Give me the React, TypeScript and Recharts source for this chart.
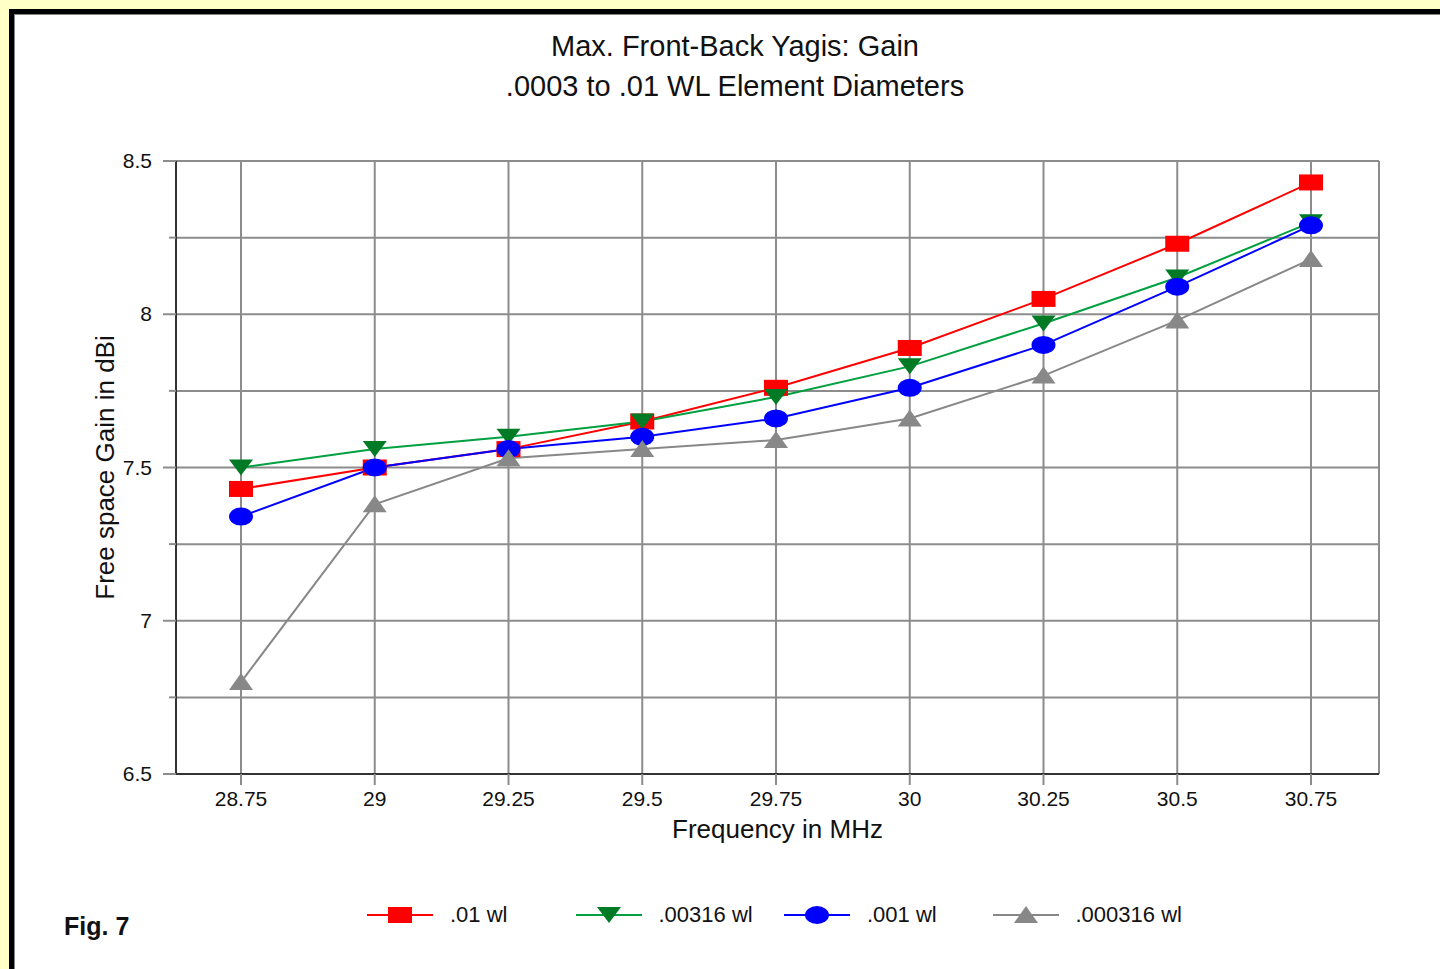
import { LineChart, Line, XAxis, YAxis, CartesianGrid, Legend, Label } from 'recharts'

const frequencies = ['28.75', '29', '29.25', '29.5', '29.75', '30', '30.25', '30.5', '30.75']
const gain01 = [7.43, 7.5, 7.56, 7.65, 7.76, 7.89, 8.05, 8.23, 8.43]
const gain00316 = [7.5, 7.56, 7.6, 7.65, 7.73, 7.83, 7.97, 8.12, 8.3]
const gain001 = [7.34, 7.5, 7.56, 7.6, 7.66, 7.76, 7.9, 8.09, 8.29]
const gain000316 = [6.8, 7.38, 7.53, 7.56, 7.59, 7.66, 7.8, 7.98, 8.18]
const yTicks = [6.5, 6.75, 7, 7.25, 7.5, 7.75, 8, 8.25, 8.5]

const FONT = '"Liberation Sans", Arial, sans-serif'
const GRID = '#8c8c8c'
const AXIS = '#333'

type Shape = 'square' | 'down' | 'circle' | 'up'

const series: { key: string; name: string; color: string; fill: string; shape: Shape }[] = [
  { key: 'w01', name: '.01 wl', color: '#ff0000', fill: '#ff0000', shape: 'square' },
  { key: 'w00316', name: '.00316 wl', color: '#00a040', fill: '#007a25', shape: 'down' },
  { key: 'w001', name: '.001 wl', color: '#0000ff', fill: '#0000ff', shape: 'circle' },
  { key: 'w000316', name: '.000316 wl', color: '#888888', fill: '#888888', shape: 'up' },
]

const data = frequencies.map((f, i) => ({
  freq: f,
  w01: gain01[i],
  w00316: gain00316[i],
  w001: gain001[i],
  w000316: gain000316[i],
}))

function marker(shape: Shape, cx: number, cy: number, fill: string, key?: number) {
  if (shape === 'square') return <rect key={key} x={cx - 12} y={cy - 8} width={24} height={16} fill={fill} />
  if (shape === 'circle') return <ellipse key={key} cx={cx} cy={cy} rx={12} ry={9} fill={fill} />
  if (shape === 'down')
    return <polygon key={key} points={`${cx - 12},${cy - 8} ${cx + 12},${cy - 8} ${cx},${cy + 8}`} fill={fill} />
  return <polygon key={key} points={`${cx - 12},${cy + 8} ${cx + 12},${cy + 8} ${cx},${cy - 9}`} fill={fill} />
}

function YTick(props: any) {
  const { x, y, payload } = props
  const major = Number.isInteger(payload.value * 2)
  return (
    <g>
      <line x1={x - (major ? 13 : 7)} x2={x} y1={y} y2={y} stroke={GRID} strokeWidth={2} />
      {major && (
        <text x={x - 24} y={y + 7} textAnchor="end" fontSize={21} fill="#111" fontFamily={FONT}>
          {payload.value}
        </text>
      )}
    </g>
  )
}

function XTick(props: any) {
  const { x, y, payload } = props
  return (
    <g>
      <line x1={x} x2={x} y1={y} y2={y + 11} stroke={GRID} strokeWidth={2} />
      <text x={x} y={y + 32} textAnchor="middle" fontSize={21} fill="#111" fontFamily={FONT}>
        {payload.value}
      </text>
    </g>
  )
}

function LegendContent() {
  return (
    <div style={{ display: 'flex', fontFamily: FONT, fontSize: 22, color: '#111' }}>
      {series.map((s) => (
        <div key={s.key} style={{ width: 208.5, display: 'flex', alignItems: 'center' }}>
          <svg width={66} height={24}>
            <line x1={0} x2={66} y1={12} y2={12} stroke={s.color} strokeWidth={2} />
            {marker(s.shape, 33, 12, s.fill)}
          </svg>
          <span style={{ marginLeft: 17 }}>{s.name}</span>
        </div>
      ))}
    </div>
  )
}

export default function App() {
  return (
    <div style={{ position: 'relative', width: 1440, height: 969, overflow: 'hidden', background: '#ffffc6' }}>
      <style>{'body{margin:0}'}</style>
      <div
        style={{
          position: 'absolute',
          left: 9,
          top: 9,
          width: 1500,
          height: 1100,
          background: '#fff',
          border: '5px solid #000',
          boxShadow: 'inset 0 0 0 1px #888',
        }}
      />
      <div
        style={{
          position: 'absolute',
          left: 0,
          width: 1470,
          top: 26,
          textAlign: 'center',
          fontFamily: FONT,
          fontSize: 29,
          lineHeight: '40px',
          color: '#111',
        }}
      >
        <div>Max. Front-Back Yagis: Gain</div>
        <div>.0003 to .01 WL Element Diameters</div>
      </div>
      <div
        style={{
          position: 'absolute',
          left: 64,
          top: 912,
          fontFamily: FONT,
          fontSize: 25,
          fontWeight: 'bold',
          color: '#111',
        }}
      >
        Fig. 7
      </div>
      <div style={{ position: 'absolute', left: 0, top: 0 }}>
        <LineChart width={1440} height={969} data={data} margin={{ top: 161, right: 61, left: 0, bottom: 125 }}>
          <CartesianGrid stroke={GRID} strokeWidth={2} />
          <XAxis
            dataKey="freq"
            height={70}
            padding={{ left: 65, right: 68 }}
            tick={<XTick />}
            tickSize={0}
            tickMargin={0}
            tickLine={false}
            axisLine={{ stroke: AXIS, strokeWidth: 2 }}
            interval={0}
          >
            <Label
              value="Frequency in MHz"
              position="insideBottom"
              offset={6}
              style={{ fontFamily: FONT, fontSize: 26, fill: '#111' }}
            />
          </XAxis>
          <XAxis xAxisId="top" dataKey="freq" orientation="top" height={0} tick={false} tickLine={false} axisLine={{ stroke: AXIS, strokeWidth: 2 }} />
          <YAxis
            type="number"
            domain={[6.5, 8.5]}
            ticks={yTicks}
            width={176}
            tick={<YTick />}
            tickSize={0}
            tickMargin={0}
            tickLine={false}
            axisLine={{ stroke: AXIS, strokeWidth: 2 }}
            interval={0}
          >
            <Label
              content={(p: any) => {
                const vb = p.viewBox
                const cx = vb.x + 114
                const cy = vb.y + vb.height / 2
                return (
                  <text
                    x={cx}
                    y={cy}
                    transform={`rotate(-90 ${cx} ${cy})`}
                    textAnchor="middle"
                    fontSize={26}
                    fill="#111"
                    fontFamily={FONT}
                  >
                    Free space Gain in dBi
                  </text>
                )
              }}
            />
          </YAxis>
          <YAxis yAxisId="right" orientation="right" type="number" domain={[6.5, 8.5]} width={0} tick={false} tickLine={false} axisLine={{ stroke: AXIS, strokeWidth: 2 }} />
          {series.map((s) => (
            <Line
              key={s.key}
              type="linear"
              dataKey={s.key}
              name={s.name}
              stroke={s.color}
              strokeWidth={2}
              isAnimationActive={false}
              activeDot={false}
              dot={(p: any) => marker(s.shape, p.cx, p.cy, s.fill, p.index)}
            />
          ))}
          <Legend
            layout="horizontal"
            verticalAlign="middle"
            align="center"
            content={<LegendContent />}
            wrapperStyle={{ left: 367, top: 902, width: 900 }}
          />
        </LineChart>
      </div>
    </div>
  )
}
